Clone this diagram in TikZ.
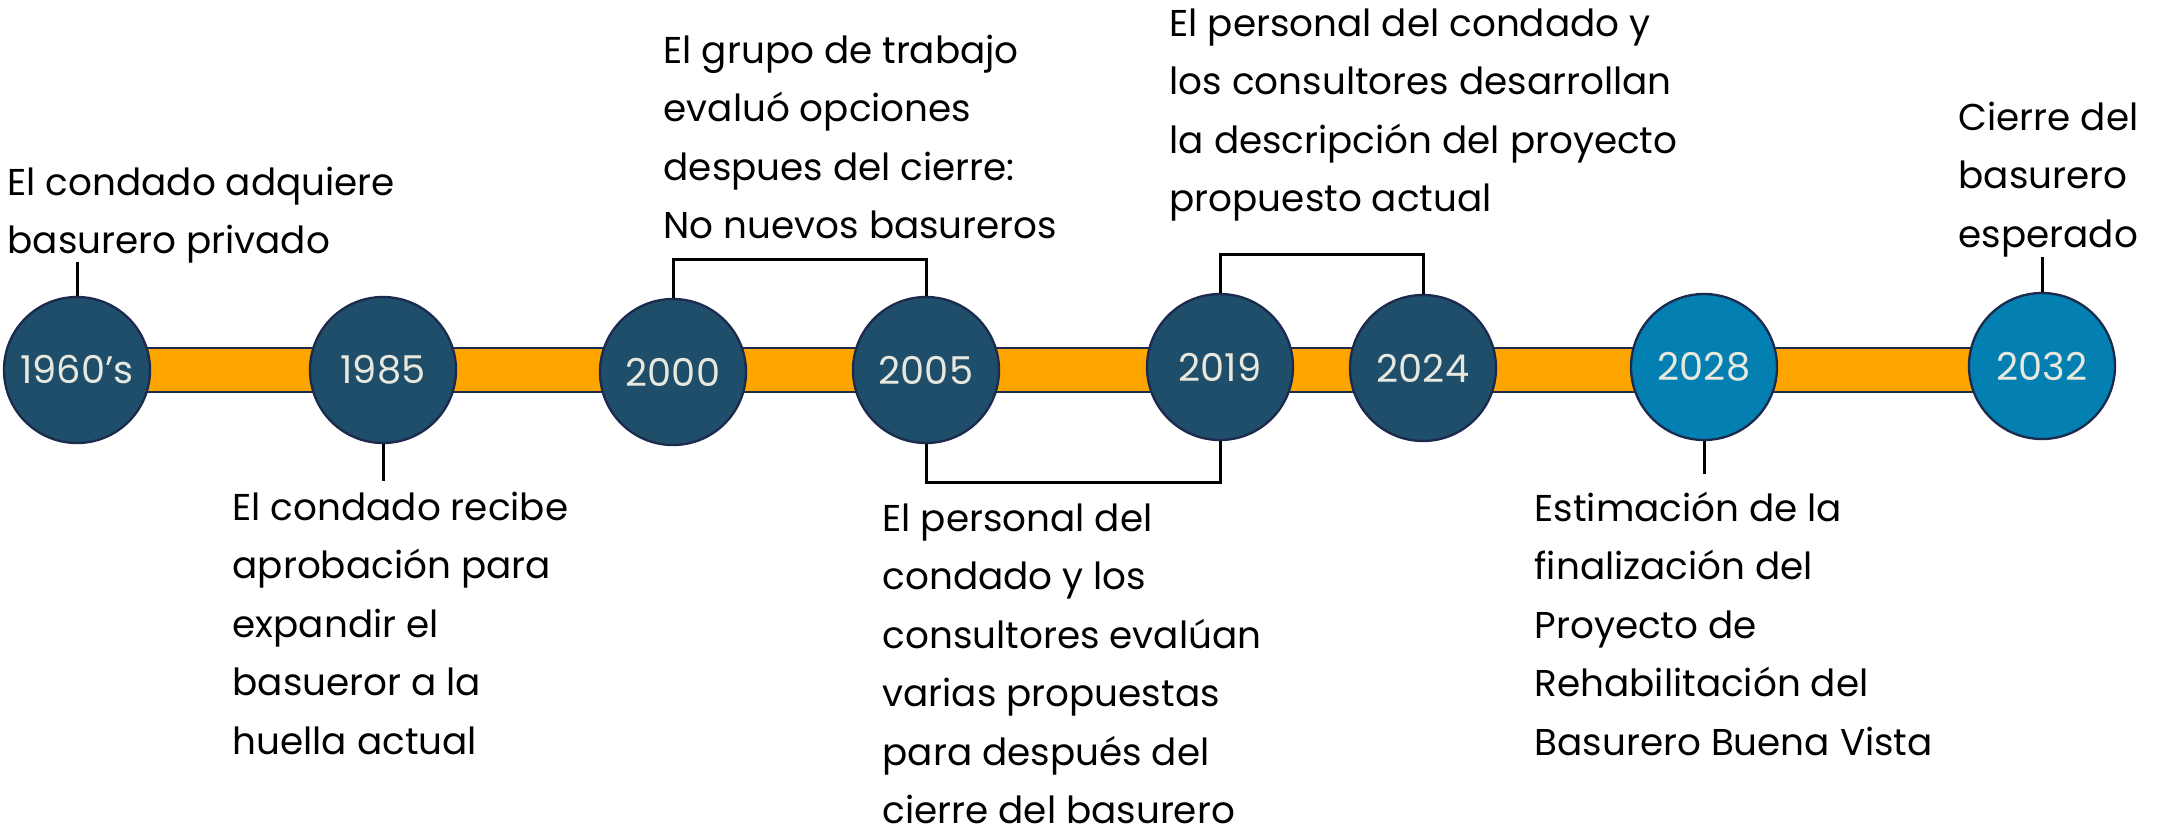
\documentclass[tikz,border=0pt]{standalone}
\usepackage{fontspec}
\setmainfont{Poppins}
\usepackage{xcolor}
\definecolor{deepsea}{RGB}{30,78,106}
\definecolor{cerulean}{RGB}{3,127,177}
\definecolor{amber}{RGB}{255,165,0}
\definecolor{midnight}{RGB}{28,42,78}
\definecolor{ivory}{RGB}{232,232,222}
\usepackage{tikz}

\begin{document}
\begin{tikzpicture}[x=0.3pt, y=-0.3pt,
    year/.style={circle, draw=midnight, line width=0.7pt, minimum size=43.8pt,
        inner sep=0pt, text=ivory, font=\fontsize{11.5}{14}\selectfont},
    note/.style={anchor=north west, align=left, inner sep=0pt,
        font=\fontsize{11.2}{17.55}\selectfont},
    link/.style={line width=0.9pt, black}
]
    \useasboundingbox (0,0) rectangle (2167,825);
    % orange band behind the years
    \draw[fill=amber, draw=midnight, line width=0.7pt] (77,348) rectangle (2043,392);
    \foreach \name/\lbl/\px/\py/\col in {1960/1960’s/77/370/deepsea, 1985/1985/383/370/deepsea,
        2000/2000/673/372/deepsea, 2005/2005/926/370/deepsea, 2019/2019/1220/367/deepsea,
        2024/2024/1423/368/deepsea, 2028/2028/1704/367/cerulean, 2032/2032/2042/366/cerulean}
        \node[year, fill=\col] (y\name) at (\px,\py) {\lbl};

    \node[note] (n1960) at (7,166) {El condado adquiere\\basurero privado};
    \node[note] (n1985) at (232,491) {El condado recibe\\aprobación para\\expandir el\\basueror a la\\huella actual};
    \node[note] (n2000) at (663,34) {El grupo de trabajo\\evaluó opciones\\despues del cierre:\\No nuevos basureros};
    \node[note] (n2019) at (1169,8) {El personal del condado y\\los consultores desarrollan\\la descripción del proyecto\\propuesto actual};
    \node[note] (n2005) at (882,503) {El personal del\\condado y los\\consultores evalúan\\varias propuestas\\para después del\\cierre del basurero};
    \node[note] (n2028) at (1534,491) {Estimación de la\\finalización del\\Proyecto de\\Rehabilitación del\\Basurero Buena Vista};
    \node[note] (n2032) at (1958,101) {Cierre del\\basurero\\esperado};

    \coordinate (l1960) at (0,262);
    \coordinate (l1985) at (0,481);
    \coordinate (l2000) at (0,259);
    \coordinate (l2005) at (0,482);
    \coordinate (l2019) at (0,254);
    \coordinate (l2028) at (0,474);
    \coordinate (l2032) at (0,257);

    \draw[link] (y1960.north) -- (y1960.north |- l1960);
    \draw[link] (y1985.south) -- (y1985.south |- l1985);
    \draw[link] (y2000.north) -- (y2000.north |- l2000) -| (y2005.north);
    \draw[link] (y2005.south) -- (y2005.south |- l2005) -| (y2019.south);
    \draw[link] (y2019.north) -- (y2019.north |- l2019) -| (y2024.north);
    \draw[link] (y2028.south) -- (y2028.south |- l2028);
    \draw[link] (y2032.north) -- (y2032.north |- l2032);
\end{tikzpicture}
\end{document}
